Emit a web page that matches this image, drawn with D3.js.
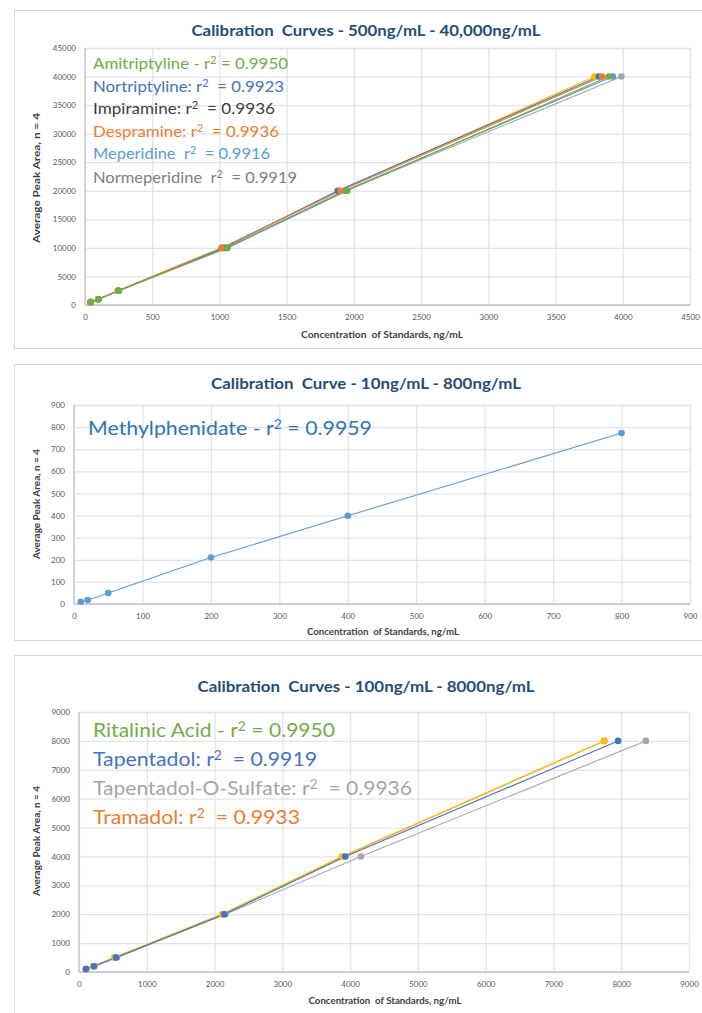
<!DOCTYPE html>
<html><head><meta charset="utf-8">
<script src="https://cdn.jsdelivr.net/npm/d3@7"></script>
<style>
body{margin:0;background:#fff;}
svg text{font-family:Lato,"Open Sans",sans-serif;white-space:pre;}
</style></head>
<body><svg id="c" width="702" height="1013"></svg>
<script>
// ---------- DATA ----------
// Panel 1: 500 - 40,000 ng/mL
const p1Areas = [500, 1000, 2500, 10000, 20000, 40000];
const p1Names = ["Normeperidine","Meperidine","Impiramine","Nortriptyline","Despramine","Amitriptyline"];
const p1Colors = ["#A5A5A5","#5B9BD5","#FFC000","#4472C4","#ED7D31","#70AD47"];
const p1Conc = [
  [43, 100, 252, 1045, 1940, 3990],
  [42, 99, 248, 1050, 1930, 3926],
  [42, 98, 245, 1020, 1890, 3789],
  [42, 99, 248, 1030, 1880, 3822],
  [41, 97, 244, 1015, 1900, 3847],
  [43, 100, 250, 1060, 1950, 3896]
];
const p1Legend = ["Amitriptyline - r|2| = 0.9950","Nortriptyline: r|2|  = 0.9923","Impiramine: r|2|  = 0.9936","Despramine: r|2|  = 0.9936","Meperidine  r|2|  = 0.9916","Normeperidine  r|2|  = 0.9919"];
const p1LegendColors = ["#70AD47","#4472C4","#404040","#ED7D31","#5B9BD5","#7F7F7F"];
const p1XTicks = [0,500,1000,1500,2000,2500,3000,3500,4000,4500];
const p1YTicks = [0,5000,10000,15000,20000,25000,30000,35000,40000,45000];

// Panel 2: 10 - 800 ng/mL
const p2Conc = [10, 20, 50, 200, 400, 800];
const p2Areas = [10, 18, 50, 210, 399, 773];
const p2Legend = ["Methylphenidate - r|2| = 0.9959"];
const p2LegendColors = ["#2E75B6"];
const p2XTicks = [0,100,200,300,400,500,600,700,800,900];
const p2YTicks = [0,100,200,300,400,500,600,700,800,900];

// Panel 3: 100 - 8000 ng/mL
const p3Areas = [100, 200, 500, 2000, 4000, 8000];
const p3Names = ["Tapentadol-O-Sulfate","Tramadol","Ritalinic Acid","Tapentadol"];
const p3Colors = ["#A5A5A5","#ED7D31","#FFC000","#4472C4"];
const p3Conc = [
  [105, 225, 560, 2160, 4159, 8363],
  [100, 212, 525, 2115, 3890, 7750],
  [100, 210, 520, 2110, 3880, 7743],
  [103, 221, 546, 2143, 3930, 7954]
];
const p3Legend = ["Ritalinic Acid - r|2| = 0.9950","Tapentadol: r|2|  = 0.9919","Tapentadol-O-Sulfate: r|2|  = 0.9936","Tramadol: r|2|  = 0.9933"];
const p3LegendColors = ["#70AD47","#4472C4","#A5A5A5","#ED7D31"];
const p3XTicks = [0,1000,2000,3000,4000,5000,6000,7000,8000,9000];
const p3YTicks = [0,1000,2000,3000,4000,5000,6000,7000,8000,9000];

const titles = ["Calibration  Curves - 500ng/mL - 40,000ng/mL","Calibration  Curve - 10ng/mL - 800ng/mL","Calibration  Curves - 100ng/mL - 8000ng/mL"];
const xTitle = "Concentration  of Standards, ng/mL";
const yTitle = "Average Peak Area, n = 4";

// ---------- DRAW ----------
const svg = d3.select("#c");
const GRID = "#E1E4EA", AXIS = "#BFC4CE", TICK = "#595959", TITLE = "#1F4E79";

function legendText(g, str, x, y, size, color, width){
  const parts = str.split("|");
  const t = g.append("text").attr("x",x).attr("y",y).attr("fill",color)
    .style("font-size",size+"px");
  t.append("tspan").text(parts[0]);
  t.append("tspan").attr("dy",-size*0.3).style("font-size",(size*0.66)+"px").text(parts[1]);
  t.append("tspan").attr("dy",size*0.3).text(parts[2]);
  if(width) t.attr("textLength",width).attr("lengthAdjust","spacingAndGlyphs");
}

function panel(cfg){
  const g = svg.append("g");
  g.append("rect").attr("x",cfg.frame[0]).attr("y",cfg.frame[1]).attr("width",cfg.frame[2]).attr("height",cfg.frame[3])
    .attr("fill","#fff").attr("stroke","#D9D9D9").attr("stroke-width",1);
  const x = d3.scaleLinear().domain(cfg.xDom).range(cfg.xRange);
  const y = d3.scaleLinear().domain(cfg.yDom).range(cfg.yRange);
  const ya = g.append("g").attr("transform",`translate(${cfg.xRange[0]},0)`)
    .call(d3.axisLeft(y).tickValues(cfg.yTicks).tickSize(-(cfg.xRange[1]-cfg.xRange[0])).tickPadding(9).tickFormat(d3.format("d")));
  ya.select(".domain").remove();
  ya.selectAll("line").attr("stroke",GRID).attr("stroke-width",1.3);
  ya.selectAll("text").attr("fill",TICK).style("font-size","8px");
  const xa = g.append("g").attr("transform",`translate(0,${cfg.yRange[0]})`)
    .call(d3.axisBottom(x).tickValues(cfg.xTicks).tickSize(-(cfg.yRange[0]-cfg.yRange[1])).tickPadding(9).tickFormat(d3.format("d")));
  xa.select(".domain").remove();
  xa.selectAll("line").attr("stroke",GRID).attr("stroke-width",1.3);
  xa.selectAll("text").attr("fill",TICK).style("font-size","8px");
  g.append("line").attr("x1",cfg.xRange[0]).attr("x2",cfg.xRange[1]).attr("y1",cfg.yRange[0]).attr("y2",cfg.yRange[0]).attr("stroke",AXIS).attr("stroke-width",1.3);
  g.append("line").attr("x1",cfg.xRange[0]).attr("x2",cfg.xRange[0]).attr("y1",cfg.yRange[0]).attr("y2",cfg.yRange[1]).attr("stroke",AXIS).attr("stroke-width",1.3);
  g.append("text").attr("x",cfg.title[1]).attr("y",cfg.title[2]).attr("text-anchor","middle")
    .attr("fill",TITLE).style("font-size","14.5px").style("font-weight","bold")
    .attr("textLength",cfg.title[3]).attr("lengthAdjust","spacingAndGlyphs").text(cfg.title[0]);
  g.append("text").attr("x",cfg.xt[0]).attr("y",cfg.xt[1]).attr("text-anchor","middle").attr("fill","#404040")
    .style("font-size","8.5px").style("font-weight","bold")
    .attr("textLength",cfg.xt[2]).attr("lengthAdjust","spacingAndGlyphs").text(xTitle);
  g.append("text").attr("transform",`translate(${cfg.yt[0]},${cfg.yt[1]}) rotate(-90)`).attr("text-anchor","middle").attr("fill","#404040")
    .style("font-size","8.5px").style("font-weight","bold")
    .attr("textLength",cfg.yt[2]).attr("lengthAdjust","spacingAndGlyphs").text(yTitle);
  const line = d3.line().x(d=>x(d[0])).y(d=>y(d[1]));
  cfg.series.forEach(s=>{
    const pts = s.conc.map((c,i)=>[c, s.areas[i]]);
    g.append("path").datum(pts).attr("d",line).attr("fill","none").attr("stroke",s.color).attr("stroke-width",1.1);
  });
  cfg.series.forEach(s=>{
    const pts = s.conc.map((c,i)=>[c, s.areas[i]]);
    g.selectAll(null).data(pts).enter().append("circle")
      .attr("cx",d=>x(d[0])).attr("cy",d=>y(d[1])).attr("r",3.3).attr("fill",s.color);
  });
  cfg.legend.forEach((l,i)=>{
    legendText(g, l, cfg.lx, cfg.ly[i], cfg.lsize, cfg.lcolors[i], cfg.lw[i]);
  });
}

panel({
  frame:[14.5,10.5,700,338],
  xDom:[0,4500], xRange:[85,690], yDom:[0,45000], yRange:[305,48],
  xTicks:p1XTicks, yTicks:p1YTicks,
  title:[titles[0],366,36,349],
  xt:[382,338,162], yt:[40,178,130],
  series:p1Names.map((n,i)=>({name:n,color:p1Colors[i],conc:p1Conc[i],areas:p1Areas})),
  legend:p1Legend, lcolors:p1LegendColors, lx:93, ly:[69,92,114,137,159,183], lsize:16,
  lw:[195,191,182,186,177,204]
});
panel({
  frame:[14.5,364.5,700,276],
  xDom:[0,900], xRange:[74,690], yDom:[0,900], yRange:[604,405],
  xTicks:p2XTicks, yTicks:p2YTicks,
  title:[titles[1],366,389,310],
  xt:[383,635,152], yt:[40,504,110],
  series:[{name:"Methylphenidate",color:"#5B9BD5",conc:p2Conc,areas:p2Areas}],
  legend:p2Legend, lcolors:p2LegendColors, lx:88, ly:[435], lsize:20,
  lw:[284]
});
panel({
  frame:[14.5,655.5,700,370],
  xDom:[0,9000], xRange:[79,689], yDom:[0,9000], yRange:[972,712],
  xTicks:p3XTicks, yTicks:p3YTicks,
  title:[titles[2],366,692,337],
  xt:[385,1004,153], yt:[40,841,110],
  series:p3Names.map((n,i)=>({name:n,color:p3Colors[i],conc:p3Conc[i],areas:p3Areas})),
  legend:p3Legend, lcolors:p3LegendColors, lx:93, ly:[737,766,795,824], lsize:20,
  lw:[242,224,319,207]
});
</script></body></html>
